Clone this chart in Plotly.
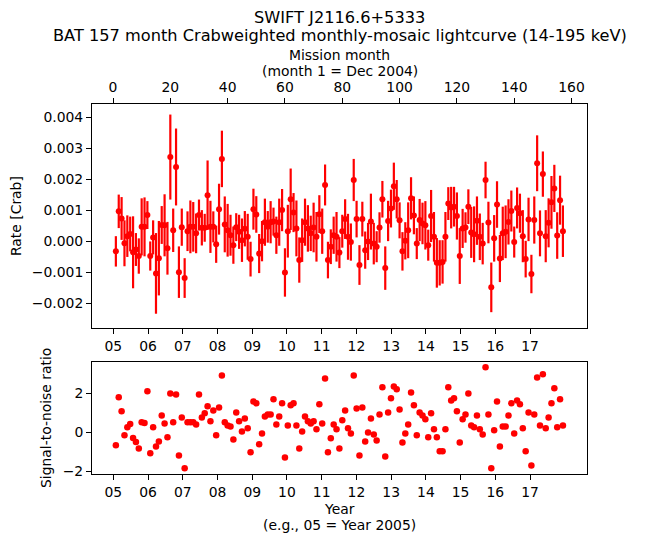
import plotly.graph_objects as go

# ---------------- data ----------------
months = list(range(1, 158))

rate_mcrab = [
    -0.33, 0.96, 0.73, -0.07, 0.16, 0.23, -0.36, -0.27, -0.48, 0.46,
    0.46, 0.84, -0.48, 0.12, -1.04, -0.55, 0.52, 0.51, -0.23, 2.71,
    0.35, 2.39, -1.00, 0.45, -1.19, 0.32, 0.46, 0.46, 0.25, 0.84,
    0.43, 0.43, 1.48, 0.46, 0.46, -0.10, 1.03, 2.65, 0.54, 0.35,
    0.19, -0.13, 0.45, 0.30, 0.03, 0.40, 0.14, -0.58, 1.03, 0.86,
    -0.40, 0.00, 0.61, 0.46, 0.61, 0.63, 0.19, 0.61, 1.00, -1.01,
    0.32, 1.35, 0.92, 0.41, -0.61, 0.03, 0.61, 0.41, 0.25, 0.44,
    0.14, 0.87, 0.32, 1.81, -0.61, -0.18, 0.19, 0.14, -0.37, 0.32,
    0.71, 0.14, -0.03, 1.97, 0.71, -0.77, 0.71, -0.29, -0.01, 0.63,
    -0.08, -0.18, 0.44, 1.35, -0.87, 0.65, 1.05, 1.77, 1.35, 0.67,
    -0.33, 0.01, 0.35, 1.38, 0.83, -0.08, 0.68, 0.57, 0.51, -0.13,
    0.81, 0.14, -0.70, -0.70, -0.67, 0.14, 1.21, 1.08, 1.11, 0.81,
    -0.48, 0.41, 0.44, 1.11, 0.28, 0.22, 0.66, 0.14, -0.08, 1.97,
    0.60, -1.49, 0.09, 1.18, -0.56, 0.25, 0.30, 0.62, 0.97, -0.03,
    1.07, 0.90, 0.16, -0.58, 0.70, -1.06, 0.68, 2.51, 0.25, 2.16,
    0.16, 0.59, 1.25, 1.70, 0.18, 1.32, 0.32,
]

err_mcrab = [
    0.49, 0.54, 0.69, 0.74, 0.67, 0.56, 1.16, 0.53, 0.57, 0.92,
    0.95, 0.45, 0.47, 0.55, 1.30, 1.20, 0.61, 1.00, 0.85, 1.37,
    0.70, 1.24, 0.83, 0.60, 0.64, 0.64, 0.85, 0.80, 0.64, 0.50,
    0.57, 0.45, 1.12, 0.84, 0.50, 0.60, 0.82, 0.91, 0.90, 0.85,
    0.66, 0.60, 0.45, 0.55, 0.70, 0.57, 0.74, 0.56, 0.66, 0.59,
    0.63, 0.65, 0.76, 0.51, 0.68, 0.45, 0.60, 0.76, 0.68, 0.78,
    0.85, 0.99, 0.63, 0.90, 0.73, 0.70, 0.76, 0.75, 0.57, 0.80,
    0.80, 0.61, 0.73, 0.66, 0.59, 0.56, 0.60, 0.80, 0.50, 0.53,
    0.64, 0.74, 0.60, 0.68, 0.59, 0.64, 0.56, 0.60, 0.60, 0.90,
    0.67, 0.50, 0.49, 0.59, 0.70, 0.65, 0.61, 0.76, 0.62, 0.58,
    0.62, 0.60, 0.90, 0.68, 0.61, 0.50, 0.68, 0.67, 0.78, 0.50,
    0.84, 0.80, 0.80, 0.73, 0.70, 0.80, 0.53, 0.67, 0.64, 0.76,
    0.90, 0.63, 0.49, 0.56, 0.82, 0.90, 0.78, 0.75, 0.67, 0.59,
    0.67, 0.80, 0.75, 0.75, 0.76, 0.86, 0.85, 0.73, 0.66, 0.50,
    0.66, 0.63, 0.84, 0.59, 0.70, 0.62, 0.76, 0.90, 0.74, 0.73,
    0.84, 0.79, 0.85, 0.76, 0.75, 0.79, 0.83,
]

snr = [
    -0.68, 1.78, 1.06, -0.17, 0.24, 0.41, -0.31, -0.51, -0.84, 0.50,
    0.46, 2.09, -1.09, 0.24, -0.74, -0.48, 0.85, 0.44, -0.27, 1.98,
    0.50, 1.93, -1.20, 0.75, -1.86, 0.50, 0.50, 0.50, 0.39, 1.93,
    0.75, 0.96, 1.32, 0.55, 1.11, -0.17, 1.26, 2.90, 0.50, 0.34,
    0.29, -0.38, 1.00, 0.55, 0.03, 0.70, 0.19, -1.04, 1.57, 1.47,
    -0.63, -0.07, 0.80, 0.90, 0.90, 1.68, 0.39, 0.80, 1.47, -1.30,
    0.34, 1.37, 1.47, 0.34, -0.84, 0.03, 0.80, 0.55, 0.44, 0.55,
    0.14, 1.42, 0.44, 2.75, -1.04, -0.32, 0.39, 0.14, -0.84, 0.60,
    1.11, 0.19, -0.07, 2.90, 1.21, -1.20, 1.26, -0.48, -0.02, 0.70,
    -0.12, -0.43, 0.90, 2.29, -1.25, 1.00, 1.73, 2.34, 2.19, 1.16,
    -0.53, -0.07, 0.39, 2.03, 1.37, -0.17, 1.00, 0.85, 0.65, -0.27,
    0.96, 0.14, -0.27, -0.99, -0.99, 0.14, 2.29, 1.62, 1.73, 1.06,
    -0.53, 0.65, 0.90, 1.98, 0.34, 0.24, 0.85, 0.14, -0.12, 3.32,
    0.90, -1.86, 0.09, 1.57, -0.74, 0.29, 0.29, 0.85, 1.47, -0.07,
    1.62, 1.42, 0.19, -0.99, 1.00, -1.71, 0.90, 2.80, 0.34, 2.96,
    0.19, 0.75, 1.47, 2.24, 0.24, 1.68, 0.34,
]

year_labels = ["05", "06", "07", "08", "09", "10", "11", "12", "13", "14", "15", "16", "17"]
month_ticks = [0, 20, 40, 60, 80, 100, 120, 140, 160]
rate_ticks = [-0.002, -0.001, 0.0, 0.001, 0.002, 0.003, 0.004]
snr_ticks = [-2, 0, 2]

# ---------------- derived ----------------
rate = [v * 1e-3 for v in rate_mcrab]
err = [v * 1e-3 for v in err_mcrab]
MONTHS_PER_YEAR_TICK = 12.12
year_tick_pos = [0.1 + MONTHS_PER_YEAR_TICK * k for k in range(len(year_labels))]

FONT = "DejaVu Sans"
RED = "#ff0000"
XR = [-7.33, 165.4]
TFS = 13.9   # tick / label font size
HFS = 16.2   # title font size

fig = go.Figure()

fig.add_trace(go.Scatter(
    x=months, y=rate, mode="markers",
    marker=dict(color=RED, size=6),
    error_y=dict(type="data", array=err, visible=True, color=RED, thickness=2.2, width=0),
    xaxis="x", yaxis="y", showlegend=False, hoverinfo="skip",
))

# invisible trace to activate the top (mission month) axis
fig.add_trace(go.Scatter(
    x=[months[0]], y=[rate[0]], mode="markers", marker=dict(opacity=0),
    xaxis="x3", yaxis="y", showlegend=False, hoverinfo="skip",
))

fig.add_trace(go.Scatter(
    x=months, y=snr, mode="markers",
    marker=dict(color=RED, size=6.5),
    xaxis="x2", yaxis="y2", showlegend=False, hoverinfo="skip",
))

axis_common = dict(
    showline=True, linecolor="black", linewidth=1, mirror=True,
    ticks="outside", ticklen=5, tickwidth=1, tickcolor="black",
    showgrid=False, zeroline=False,
    tickfont=dict(family=FONT, size=TFS, color="black"),
)

top_dom = [(474 - 328) / 370, 1.0]
bot_dom = [0.0, (474 - 362) / 370]

# page body has an 8px margin: the figure is sized/margined so that the
# plot areas land at the reference pixel positions.
fig.update_layout(
    width=638, height=535,
    margin=dict(l=84, r=59, t=96, b=69),
    paper_bgcolor="white", plot_bgcolor="white",
    font=dict(family=FONT, size=TFS, color="black"),
    xaxis=dict(domain=[0, 1], anchor="y", range=XR,
               tickmode="array", tickvals=year_tick_pos, ticktext=year_labels,
               **axis_common),
    xaxis3=dict(domain=[0, 1], anchor="y", overlaying="x", side="top", range=XR,
                tickmode="array", tickvals=month_ticks,
                ticktext=[str(t) for t in month_ticks],
                **{k: v for k, v in axis_common.items() if k != "mirror"}),
    yaxis=dict(domain=top_dom, anchor="x", range=[-0.0028, 0.00442],
               tickmode="array", tickvals=rate_ticks,
               ticktext=["\u22120.002", "\u22120.001", "0.000", "0.001", "0.002", "0.003", "0.004"],
               **axis_common),
    xaxis2=dict(domain=[0, 1], anchor="y2", range=XR,
                tickmode="array", tickvals=year_tick_pos, ticktext=year_labels,
                **axis_common),
    yaxis2=dict(domain=bot_dom, anchor="x2", range=[-2.15, 3.59],
                tickmode="array", tickvals=snr_ticks,
                ticktext=["\u22122", "0", "2"],
                **axis_common),
)

def ann(text, x, y, size=TFS, angle=0):
    fig.add_annotation(text=text, x=x, y=y, xref="paper", yref="paper",
                       showarrow=False, textangle=angle,
                       xanchor="center", yanchor="middle",
                       font=dict(family=FONT, size=size, color="black"))

ann("SWIFT J2116.6+5333", 0.5, (474 - 18) / 370, size=HFS)
ann("BAT 157 month Crabweighted monthly-mosaic lightcurve (14-195 keV)", 0.5, (474 - 35.5) / 370, size=HFS)
ann("Mission month", 0.5, (474 - 55.5) / 370)
ann("(month 1 = Dec 2004)", 0.5, (474 - 71.5) / 370)
ann("Rate [Crab]", (16 - 92) / 495, (474 - 216) / 370, angle=-90)
ann("Signal-to-noise ratio", (46 - 92) / 495, (474 - 418) / 370, angle=-90)
ann("Year", 0.5, (474 - 509) / 370)
ann("(e.g., 05 = Year 2005)", 0.5, (474 - 525) / 370)

fig.write_html("out.html")
